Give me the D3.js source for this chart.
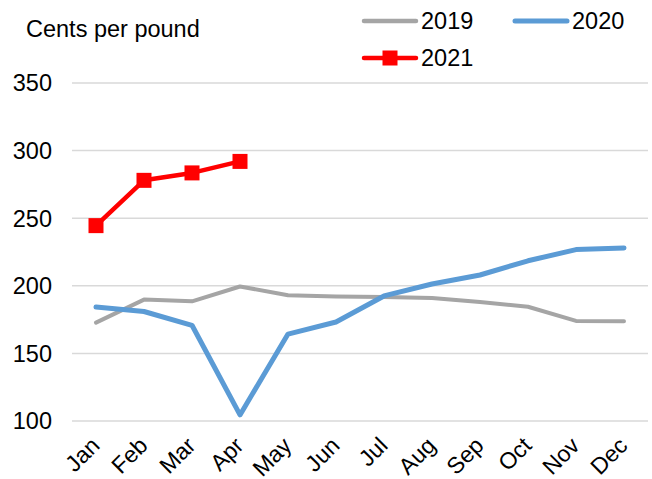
<!DOCTYPE html>
<html>
<head>
<meta charset="utf-8">
<script src="https://cdn.jsdelivr.net/npm/d3@7"></script>
<style>
  body { margin: 0; background: #fff; }
  text { font-family: "Liberation Sans", Arial, sans-serif; fill: #000; }
</style>
</head>
<body>
<div id="canvas"></div>
<script>
const months = ["Jan", "Feb", "Mar", "Apr", "May", "Jun", "Jul", "Aug", "Sep", "Oct", "Nov", "Dec"];
const yTicks = [100, 150, 200, 250, 300, 350];
const v2019 = [172.8, 189.8, 188.5, 199.5, 193, 192, 191.7, 191, 188, 184.5, 174, 173.8];
const v2020 = [184.3, 181, 170.8, 104.5, 164.3, 173.2, 192.5, 201.3, 208, 218.5, 226.8, 228];
const v2021 = [244.5, 278, 283.5, 292];

const width = 652;
const height = 479;
const margin = { top: 83, left: 72, bottom: 58, right: 4 };
const fontSize = "23.5px";

const svg = d3.select("#canvas").append("svg")
  .attr("width", width)
  .attr("height", height);

const x = d3.scaleBand().domain(months).range([margin.left, width - margin.right]);
const y = d3.scaleLinear().domain([100, 350]).range([height - margin.bottom, margin.top]);

// gridlines
svg.append("g")
  .selectAll("line")
  .data(yTicks)
  .enter()
  .append("line")
  .attr("x1", margin.left)
  .attr("x2", width - margin.right)
  .attr("y1", (d) => y(d))
  .attr("y2", (d) => y(d))
  .style("stroke", "#d9d9d9")
  .style("stroke-width", 1.5);

// y labels
svg.append("g")
  .selectAll("text")
  .data(yTicks)
  .enter()
  .append("text")
  .attr("x", 52)
  .attr("y", (d) => y(d))
  .attr("dy", "0.36em")
  .attr("text-anchor", "end")
  .style("font-size", fontSize)
  .text((d) => d);

// x labels
svg.append("g")
  .selectAll("text")
  .data(months)
  .enter()
  .append("text")
  .attr("transform", (d) => `translate(${x(d) + x.bandwidth() / 2 + 5},${y(100) + 26}) rotate(-45)`)
  .attr("text-anchor", "end")
  .style("font-size", "23px")
  .text((d) => d);

const cx = (i) => x(months[i]) + x.bandwidth() / 2;
const line = d3.line().x((d, i) => cx(i)).y((d) => y(d));

svg.append("path").datum(v2019)
  .attr("d", line)
  .style("fill", "none")
  .style("stroke", "#a5a5a5")
  .style("stroke-width", 4)
  .style("stroke-linejoin", "round")
  .style("stroke-linecap", "round");

svg.append("path").datum(v2020)
  .attr("d", line)
  .style("fill", "none")
  .style("stroke", "#5b9bd5")
  .style("stroke-width", 5)
  .style("stroke-linejoin", "round")
  .style("stroke-linecap", "round");

svg.append("path").datum(v2021)
  .attr("d", line)
  .style("fill", "none")
  .style("stroke", "#ff0000")
  .style("stroke-width", 4.5)
  .style("stroke-linejoin", "round");

svg.append("g")
  .selectAll("rect")
  .data(v2021)
  .enter()
  .append("rect")
  .attr("x", (d, i) => cx(i) - 7.5)
  .attr("y", (d) => y(d) - 7.5)
  .attr("width", 15)
  .attr("height", 15)
  .style("fill", "#ff0000");

// axis title
svg.append("text")
  .attr("x", 26)
  .attr("y", 36.5)
  .style("font-size", fontSize)
  .text("Cents per pound");

// legend
const legend = [
  { name: "2019", color: "#a5a5a5", w: 4.5, lx: 364, ly: 21, marker: false },
  { name: "2020", color: "#5b9bd5", w: 5, lx: 515, ly: 21, marker: false },
  { name: "2021", color: "#ff0000", w: 4.5, lx: 364, ly: 58, marker: true }
];
const lg = svg.append("g").selectAll("g").data(legend).enter().append("g");
lg.append("line")
  .attr("x1", (d) => d.lx)
  .attr("x2", (d) => d.lx + 52)
  .attr("y1", (d) => d.ly)
  .attr("y2", (d) => d.ly)
  .style("stroke", (d) => d.color)
  .style("stroke-width", (d) => d.w)
  .style("stroke-linecap", "round");
lg.filter((d) => d.marker).append("rect")
  .attr("x", (d) => d.lx + 26 - 7.5)
  .attr("y", (d) => d.ly - 7.5)
  .attr("width", 15)
  .attr("height", 15)
  .style("fill", (d) => d.color);
lg.append("text")
  .attr("x", (d) => d.lx + 57)
  .attr("y", (d) => d.ly)
  .attr("dy", "0.36em")
  .style("font-size", fontSize)
  .text((d) => d.name);
</script>
</body>
</html>
